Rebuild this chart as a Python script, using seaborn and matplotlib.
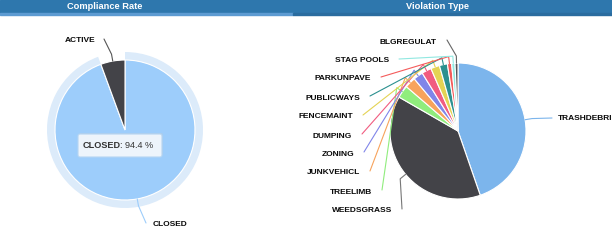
import numpy as np
import seaborn as sns
import matplotlib.pyplot as plt
from matplotlib.patches import Rectangle, Wedge, FancyBboxPatch

# data
status = ["CLOSED", "ACTIVE"]
status_share = [94.4, 5.6]

violations = ["TRASHDEBRI", "WEEDSGRASS", "TREELIMB", "JUNKVEHICL", "ZONING",
              "DUMPING", "FENCEMAINT", "PUBLICWAYS", "PARKUNPAVE", "STAG POOLS",
              "BLGREGULAT"]
violation_share = [44.7, 38.6, 3.0, 2.6, 2.3, 2.3, 2.1, 1.9, 1.0, 0.8, 0.7]

sns.set_theme(style="white")
plt.rcParams["font.family"] = ["Liberation Sans", "DejaVu Sans"]

hc = sns.color_palette(["#7cb5ec", "#434348", "#90ed7d", "#f7a35c", "#8085e9",
                        "#f15c80", "#e4d354", "#2b908f", "#f45b5b", "#91e8e1",
                        "#555559"])
status_colors = ["#9dcdfb", "#434348"]

W, H = 612, 244
fig = plt.figure(figsize=(W / 100, H / 100), dpi=100)
ax = fig.add_axes([0, 0, 1, 1])


def Y(y):
    return H - y


# header bar
ax.add_patch(Rectangle((0, Y(13)), W, 13, color="#2e77ad", zorder=1))
ax.add_patch(Rectangle((0, Y(15)), 293, 2, color="#5d9bd2", zorder=1))
ax.add_patch(Rectangle((293, Y(15)), W - 293, 2, color="#2a6c9f", zorder=1))
ax.text(105, Y(6.5), "Compliance Rate", color="white", fontsize=6.7,
        fontweight="bold", ha="center", va="center", zorder=2)
ax.text(438, Y(6.5), "Violation Type", color="white", fontsize=6.7,
        fontweight="bold", ha="center", va="center", zorder=2)

label_kw = dict(fontsize=6.0, fontweight="bold", color="#0a0a0a", va="center")


def connector(cx, cy, r, theta, anchor, color):
    # theta: degrees clockwise from top, cx/cy in pixel space
    t = np.radians(theta)
    p0 = (cx + r * np.sin(t), cy - r * np.cos(t))
    p1 = (cx + (r + 7) * np.sin(t), cy - (r + 7) * np.cos(t))
    xs = [p0[0], p1[0], anchor[0]]
    ys = [Y(p0[1]), Y(p1[1]), Y(anchor[1])]
    ax.plot(xs, ys, color=color, lw=0.8, zorder=4, solid_capstyle="round")


# ---- left pie: compliance rate
lcx, lcy, lr = 125, 130, 70
ang = np.cumsum([0] + status_share) * 3.6
# hover halo around CLOSED
ax.add_patch(Wedge((lcx, Y(lcy)), lr + 8, 90 - ang[1], 90 - ang[0] + 360,
                   width=8, color="#dcebfa", lw=0, zorder=2))
ax.pie(status_share, colors=status_colors, startangle=90, counterclock=False,
       center=(lcx, Y(lcy)), radius=lr,
       wedgeprops=dict(edgecolor="white", linewidth=0.8, zorder=3))
connector(lcx, lcy, lr, (ang[1] + ang[2]) / 2, (104, 39), "#555555")
ax.text(95, Y(41), "ACTIVE", ha="right", **label_kw)
connector(lcx, lcy, lr, (ang[0] + ang[1]) / 2, (146, 223), "#9dcdfb")
ax.text(153, Y(224), "CLOSED", ha="left", **label_kw)

# tooltip
ax.add_patch(FancyBboxPatch((79, Y(156)), 84, 23,
                            boxstyle="round,pad=0,rounding_size=2",
                            facecolor="#c8c8c8", edgecolor="none", alpha=0.35,
                            zorder=5))
ax.add_patch(FancyBboxPatch((78, Y(157)), 84, 23,
                            boxstyle="round,pad=0,rounding_size=2",
                            facecolor="#edf4fb", edgecolor="#b5d5f3", lw=0.8,
                            zorder=6))
ax.text(83, Y(145), "CLOSED", fontsize=6.6, fontweight="bold", color="#333333",
        ha="left", va="center", zorder=7)
ax.text(119.5, Y(145), ": 94.4 %", fontsize=6.6, color="#333333",
        ha="left", va="center", zorder=7)

# ---- right pie: violation type
rcx, rcy, rr = 458, 131, 68
ang = np.cumsum([0] + violation_share) * 3.6
ax.pie(violation_share, colors=hc[:len(violations)], startangle=90,
       counterclock=False, center=(rcx, Y(rcy)), radius=rr,
       wedgeprops=dict(edgecolor="white", linewidth=0.8, zorder=3))

# label layout (text anchor x, y) and alignment
label_pos = {
    "TRASHDEBRI": (558, 119, "left"),
    "WEEDSGRASS": (392, 211, "right"),
    "TREELIMB": (372, 192, "right"),
    "JUNKVEHICL": (360, 173, "right"),
    "ZONING": (354, 154, "right"),
    "DUMPING": (352, 136, "right"),
    "FENCEMAINT": (353, 117, "right"),
    "PUBLICWAYS": (360, 98, "right"),
    "PARKUNPAVE": (371, 79, "right"),
    "STAG POOLS": (389, 61, "right"),
    "BLGREGULAT": (437, 42, "right"),
}
line_colors = list(hc)
line_colors[1] = "#777777"
line_colors[10] = "#666666"
for i, name in enumerate(violations):
    lx, ly, ha = label_pos[name]
    mid = (ang[i] + ang[i + 1]) / 2
    anchor = (lx - 6, ly - 1) if ha == "left" else (lx + 10, ly - 2)
    connector(rcx, rcy, rr, mid, anchor, line_colors[i])
    ax.text(lx, Y(ly), name, ha=ha, **label_kw)

ax.set_xlim(0, W)
ax.set_ylim(0, H)
ax.set_aspect("auto")
ax.axis("off")
fig.savefig("out.png", dpi=100, facecolor="white")
